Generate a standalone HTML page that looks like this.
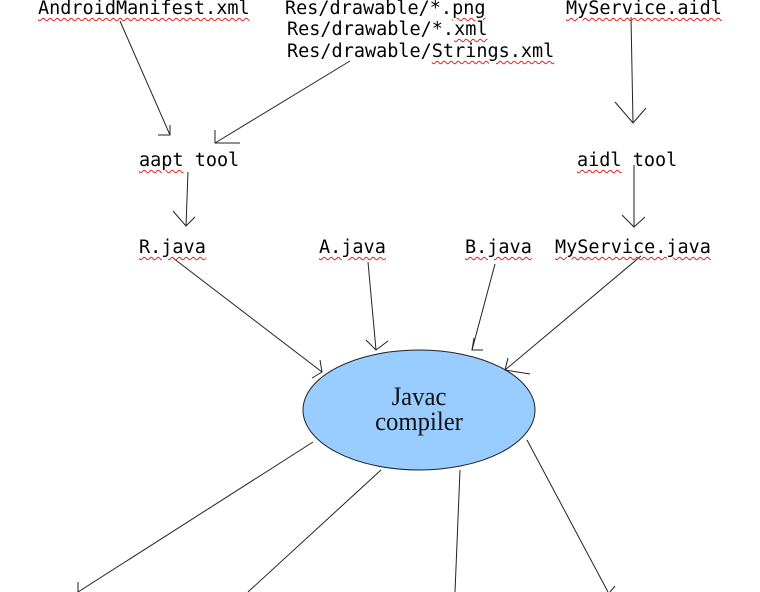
<!DOCTYPE html>
<html><head><meta charset="utf-8"><style>
html,body{margin:0;padding:0;background:#fff;width:760px;height:592px;overflow:hidden;position:relative}
.t{position:absolute;font-family:"DejaVu Sans Mono","Liberation Mono",monospace;font-size:18.5px;color:#000;white-space:pre;line-height:1}
.u{text-decoration:underline wavy #e02020;text-decoration-thickness:1px;text-underline-offset:3px}
svg{position:absolute;left:0;top:0}
.e{position:absolute;font-family:"Liberation Serif",serif;font-size:26px;text-align:center;width:200px;left:319px;line-height:25px;top:384px;color:#111;transform:scaleX(0.95)}
</style></head><body>
<svg width="760" height="592" viewBox="0 0 760 592">
<ellipse cx="419" cy="410" rx="116" ry="60" fill="#99ccff" stroke="#222" stroke-width="1"/>
<g stroke="#222" stroke-width="1" fill="none">
<line x1="120" y1="21" x2="170" y2="135"/><polyline points="158,135 170,135 170,125"/>
<line x1="350" y1="61" x2="215" y2="143"/><polyline points="215,130 215,143 240,143"/>
<line x1="188" y1="172" x2="186" y2="226"/><polyline points="173,211 186,226 195,217"/>
<line x1="631" y1="17" x2="633" y2="123"/><polyline points="615,102 633,123 646,108"/>
<line x1="634" y1="165" x2="634" y2="227"/><polyline points="622,215 634,227 645,217"/>
<line x1="173" y1="258" x2="322" y2="372"/><polyline points="312,378 322,372 320,360"/>
<line x1="368" y1="262" x2="376" y2="350"/><polyline points="366,340 376,350 388,341"/>
<line x1="495" y1="264" x2="472" y2="350"/><polyline points="474,338 472,350 483,350"/>
<line x1="641" y1="256" x2="505" y2="370"/><polyline points="508,358 505,370 530,374"/>
<line x1="313" y1="442" x2="78" y2="592"/><line x1="78" y1="582" x2="78" y2="592"/>
<line x1="381" y1="470" x2="248" y2="592"/>
<line x1="460" y1="470" x2="455" y2="592"/>
<line x1="527" y1="440" x2="608" y2="592"/><line x1="615" y1="586" x2="610" y2="592"/>
</g>
</svg>
<div class="t" style="left:38px;top:0px"><span class="u">AndroidManifest.xml</span></div>
<div class="t" style="left:285px;top:0px">Res/drawable/*.<span class="u">png</span></div>
<div class="t" style="left:287px;top:21px">Res/drawable/*.<span class="u">xml</span></div>
<div class="t" style="left:287px;top:43px">Res/drawable/<span class="u">Strings.xml</span></div>
<div class="t" style="left:566px;top:0px"><span class="u">MyService.aidl</span></div>
<div class="t" style="left:139px;top:152px"><span class="u">aapt</span> tool</div>
<div class="t" style="left:577px;top:152px"><span class="u">aidl</span> tool</div>
<div class="t" style="left:139px;top:239px"><span class="u">R.java</span></div>
<div class="t" style="left:319px;top:239px"><span class="u">A.java</span></div>
<div class="t" style="left:465px;top:239px"><span class="u">B.java</span></div>
<div class="t" style="left:555px;top:239px"><span class="u">MyService.java</span></div>
<div class="e">Javac<br>compiler</div>
</body></html>
